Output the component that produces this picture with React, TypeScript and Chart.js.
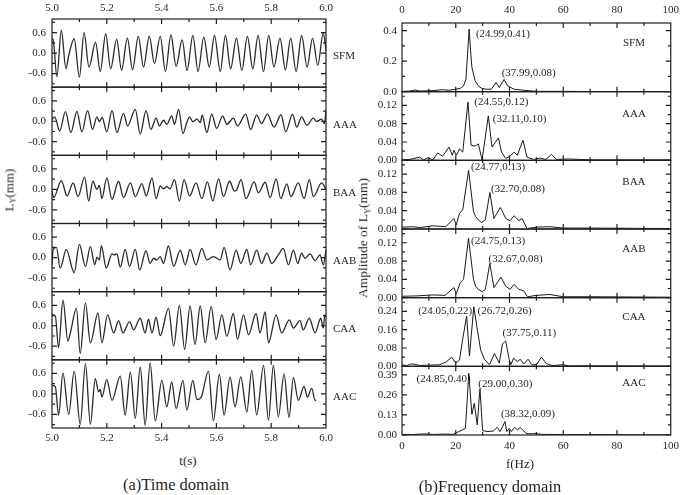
import { useEffect, useRef } from 'react';
import { Chart, registerables } from 'chart.js';

Chart.register(...registerables);

const FONT = "'Liberation Serif', 'Times New Roman', serif";
const INK = '#1f1f1f';

// ---------- series names ----------
const NAMES = ['SFM', 'AAA', 'BAA', 'AAB', 'CAA', 'AAC'];

// ---------- time domain: [t (s), L_Y (mm)] ----------
const SFM_TIME = [
  [5.000, 0.42], [5.004, 0.40], [5.018, -0.69], [5.034, 0.67], [5.051, -0.46], [5.061, -0.07],
  [5.081, 0.42], [5.100, -0.71], [5.117, 0.60], [5.135, -0.41], [5.159, 0.32], [5.176, -0.54],
  [5.196, 0.57], [5.214, -0.46], [5.236, 0.40], [5.254, -0.51], [5.275, 0.44], [5.294, -0.49],
  [5.315, 0.49], [5.334, -0.41], [5.355, 0.50], [5.374, -0.31], [5.395, 0.49], [5.414, -0.54],
  [5.434, 0.53], [5.453, -0.39], [5.475, 0.39], [5.493, -0.51], [5.514, 0.52], [5.533, -0.54],
  [5.554, 0.47], [5.574, -0.41], [5.593, 0.52], [5.614, -0.54], [5.633, 0.52], [5.652, -0.46],
  [5.673, 0.44], [5.693, -0.51], [5.713, 0.49], [5.733, -0.46], [5.752, 0.52], [5.772, -0.54],
  [5.791, 0.52], [5.810, -0.41], [5.832, 0.44], [5.852, -0.49], [5.871, 0.44], [5.891, -0.54],
  [5.911, 0.52], [5.931, -0.41], [5.951, 0.44], [5.970, -0.36], [5.990, 0.59], [6.000, 0.08],
];
const AAA_TIME = [
  [5.000, 0.06], [5.010, 0.13], [5.028, -0.29], [5.049, 0.28], [5.069, -0.33], [5.091, 0.29],
  [5.109, -0.31], [5.130, 0.31], [5.148, -0.24], [5.164, 0.13], [5.173, -0.01], [5.183, 0.11],
  [5.200, -0.31], [5.219, 0.31], [5.237, -0.33], [5.261, 0.23], [5.276, -0.14], [5.304, 0.35],
  [5.322, -0.38], [5.343, 0.31], [5.361, -0.24], [5.380, 0.09], [5.392, -0.14], [5.407, 0.03],
  [5.419, -0.09], [5.437, 0.16], [5.447, -0.09], [5.462, 0.35], [5.478, -0.36], [5.492, -0.04],
  [5.502, 0.13], [5.514, -0.01], [5.529, 0.06], [5.541, -0.04], [5.548, 0.18], [5.565, -0.33],
  [5.583, 0.21], [5.601, -0.21], [5.623, 0.16], [5.638, -0.09], [5.662, 0.09], [5.677, -0.14],
  [5.707, 0.21], [5.725, -0.24], [5.747, 0.18], [5.765, -0.07], [5.786, 0.21], [5.810, -0.17],
  [5.836, 0.19], [5.853, -0.31], [5.878, 0.21], [5.893, -0.17], [5.911, 0.13], [5.930, -0.12],
  [5.954, 0.09], [5.966, -0.01], [5.984, 0.06], [5.994, -0.07], [6.000, 0.31],
];
const BAA_TIME = [
  [5.000, -0.05], [5.006, -0.24], [5.034, 0.26], [5.055, -0.19], [5.077, 0.19], [5.095, -0.21],
  [5.119, 0.36], [5.134, -0.34], [5.149, 0.24], [5.164, 0.00], [5.173, 0.12], [5.182, -0.27],
  [5.200, 0.34], [5.219, -0.29], [5.243, 0.24], [5.261, -0.24], [5.286, 0.19], [5.304, -0.21],
  [5.328, 0.17], [5.344, -0.19], [5.365, 0.34], [5.380, -0.27], [5.395, 0.10], [5.407, 0.02],
  [5.419, 0.08], [5.431, 0.02], [5.447, 0.29], [5.465, -0.34], [5.482, 0.29], [5.502, -0.19],
  [5.526, 0.19], [5.547, -0.27], [5.567, 0.22], [5.587, -0.34], [5.608, 0.31], [5.626, -0.21],
  [5.648, 0.24], [5.666, -0.05], [5.674, -0.02], [5.690, 0.29], [5.708, -0.27], [5.738, 0.22],
  [5.753, -0.10], [5.778, 0.21], [5.796, -0.24], [5.818, 0.31], [5.835, -0.27], [5.857, 0.16],
  [5.872, -0.21], [5.899, 0.19], [5.920, -0.27], [5.939, 0.29], [5.954, -0.21], [5.984, 0.19],
  [6.000, 0.00],
];
const AAB_TIME = [
  [5.000, -0.21], [5.004, 0.22], [5.016, 0.30], [5.030, -0.31], [5.052, 0.24], [5.081, -0.44],
  [5.100, 0.39], [5.122, -0.26], [5.140, 0.32], [5.156, -0.21], [5.164, 0.01], [5.173, -0.07],
  [5.180, 0.35], [5.198, -0.31], [5.219, 0.11], [5.228, 0.08], [5.237, 0.11], [5.249, -0.28],
  [5.267, 0.24], [5.283, -0.26], [5.304, 0.24], [5.320, -0.36], [5.343, 0.20], [5.358, -0.17],
  [5.371, -0.02], [5.383, -0.07], [5.395, 0.03], [5.407, -0.17], [5.425, 0.34], [5.444, -0.26],
  [5.468, 0.22], [5.486, -0.21], [5.504, 0.24], [5.525, -0.21], [5.547, 0.27], [5.565, -0.07],
  [5.589, 0.03], [5.614, -0.07], [5.628, 0.30], [5.650, -0.36], [5.672, 0.22], [5.689, -0.17],
  [5.711, 0.24], [5.725, -0.21], [5.747, 0.22], [5.765, -0.17], [5.784, 0.13], [5.802, -0.17],
  [5.826, 0.08], [5.844, 0.27], [5.863, -0.21], [5.881, 0.22], [5.897, -0.17], [5.911, 0.13],
  [5.923, -0.02], [5.942, 0.11], [5.960, -0.09], [5.978, 0.08], [5.990, -0.21], [6.000, 0.22],
];
const CAA_TIME = [
  [5.000, 0.32], [5.012, 0.29], [5.024, -0.64], [5.040, 0.75], [5.058, -0.45], [5.067, -0.21],
  [5.089, 0.51], [5.103, -0.81], [5.122, 0.67], [5.140, -0.50], [5.168, 0.38], [5.182, -0.50],
  [5.203, 0.32], [5.225, -0.21], [5.243, 0.15], [5.259, -0.21], [5.283, 0.12], [5.298, -0.12],
  [5.322, 0.22], [5.340, -0.21], [5.352, 0.19], [5.365, -0.21], [5.380, 0.25], [5.395, -0.29],
  [5.425, 0.51], [5.444, -0.60], [5.465, 0.60], [5.484, -0.69], [5.504, 0.58], [5.522, -0.55],
  [5.541, 0.58], [5.559, -0.50], [5.581, 0.56], [5.599, -0.40], [5.620, 0.32], [5.638, -0.31],
  [5.662, 0.36], [5.677, -0.40], [5.699, 0.32], [5.717, -0.26], [5.745, 0.36], [5.759, -0.21],
  [5.778, 0.41], [5.790, -0.50], [5.818, 0.32], [5.838, -0.21], [5.866, 0.17], [5.881, -0.07],
  [5.905, 0.15], [5.917, -0.12], [5.939, 0.22], [5.960, -0.21], [5.981, 0.22], [5.990, -0.07],
  [5.996, 0.32], [6.000, 0.27],
];
const AAC_TIME = [
  [5.000, 0.25], [5.012, 0.22], [5.024, -0.62], [5.040, 0.61], [5.061, -0.60], [5.081, 0.67],
  [5.103, -0.89], [5.122, 0.89], [5.140, -0.89], [5.158, 0.45], [5.170, 0.06], [5.176, 0.13],
  [5.182, -0.09], [5.200, 0.42], [5.219, -0.19], [5.249, 0.52], [5.267, -0.62], [5.286, 0.64],
  [5.304, -0.72], [5.322, 0.79], [5.340, -0.92], [5.358, 0.91], [5.377, -0.79], [5.401, 0.40],
  [5.419, -0.38], [5.437, 0.35], [5.453, -0.43], [5.478, 0.40], [5.492, -0.48], [5.514, 0.40],
  [5.529, -0.17], [5.544, -0.11], [5.571, 0.67], [5.589, -0.79], [5.611, 0.58], [5.628, -0.62],
  [5.650, 0.50], [5.668, -0.38], [5.689, 0.50], [5.711, -0.53], [5.729, 0.69], [5.747, -0.62],
  [5.772, 0.84], [5.790, -0.77], [5.808, 0.84], [5.826, -0.67], [5.847, 0.58], [5.865, -0.69],
  [5.881, 0.48], [5.899, -0.19], [5.920, 0.22], [5.932, -0.09], [5.948, 0.16], [5.960, -0.19],
  [5.964, -0.17],
];
const TIME_SERIES = [SFM_TIME, AAA_TIME, BAA_TIME, AAB_TIME, CAA_TIME, AAC_TIME];

const TIME_MIN = 5.0;
const TIME_MAX = 6.0;
const TIME_STEP = 0.2;
const L_MIN = -1;
const L_MAX = 1;
const L_TICKS = [-0.6, 0, 0.6];
const L_MINOR = [-0.9, -0.3, 0.3, 0.9];

// ---------- frequency domain: [f (Hz), amplitude (mm)] ----------
const SFM_FREQ = [
  [0, 0.002], [3.0, 0.004], [4.8, 0.011], [6.6, 0.004], [11.5, 0.007], [15.1, 0.013], [17.5, 0.009],
  [19.9, 0.016], [21.7, 0.022], [22.9, 0.038], [23.8, 0.082], [24.4, 0.25], [24.99, 0.41], [25.5, 0.27],
  [26.0, 0.16], [27.2, 0.071], [28.4, 0.038], [29.6, 0.022], [31.4, 0.016], [33.2, 0.016], [35.0, 0.06],
  [36.2, 0.027], [37.99, 0.08], [39.3, 0.038], [41.7, 0.016], [43.5, 0.013], [45.3, 0.009], [50.1, 0.002],
  [60, 0.002], [70, 0.001], [100, 0.001],
];
const AAA_FREQ = [
  [0, 0.001], [3, 0.002], [6.6, 0.007], [8, 0.001], [9.7, 0.006], [11.5, 0.001], [13.3, 0.016],
  [15.1, 0.009], [17.5, 0.029], [18.7, 0.011], [19.3, 0.022], [20.2, 0.011], [21.4, 0.025], [22.6, 0.018],
  [24.55, 0.127], [25.7, 0.033], [27.2, 0.031], [28.4, 0.036], [29.8, 0.001], [32.11, 0.097], [33.5, 0.029],
  [35.9, 0.049], [37.0, 0.018], [38.6, 0.004], [40.2, 0.009], [41.7, 0.018], [42.9, 0.011], [45.0, 0.044],
  [46.5, 0.007], [49, 0.002], [51.3, 0.005], [53.5, 0.002], [55.6, 0.013], [57.5, 0.002], [62, 0.003],
  [70, 0.001], [80, 0.001], [100, 0.001],
];
const BAA_FREQ = [
  [0, 0.004], [4, 0.005], [6.6, 0.003], [11.5, 0.007], [16.3, 0.005], [19.3, 0.023], [20.2, 0.009],
  [21.4, 0.034], [22.6, 0.042], [24.77, 0.128], [26.6, 0.038], [27.4, 0.027], [28.4, 0.02], [29.6, 0.014],
  [31.0, 0.02], [32.7, 0.08], [34.2, 0.023], [36.6, 0.047], [38.6, 0.023], [40.2, 0.018], [41.7, 0.029],
  [43.5, 0.018], [44.7, 0.023], [46.5, 0.001], [50, 0.004], [55, 0.005], [60, 0.002], [70, 0.002],
  [100, 0.001],
];
const AAB_FREQ = [
  [0, 0.003], [6, 0.004], [11.5, 0.006], [16, 0.005], [19.3, 0.022], [20.2, 0.009], [21.7, 0.033],
  [22.9, 0.04], [24.75, 0.13], [26.6, 0.04], [27.4, 0.025], [28.4, 0.018], [29.8, 0.013], [31, 0.018],
  [32.67, 0.075], [34.2, 0.022], [36.8, 0.045], [38.6, 0.025], [40.2, 0.018], [41.7, 0.029], [43.5, 0.018],
  [45.3, 0.015], [46.7, 0.002], [50, 0.005], [55, 0.007], [60, 0.002], [70, 0.002], [100, 0.001],
];
const CAA_FREQ = [
  [0, 0.007], [1.8, 0.003], [3.6, 0.011], [6.6, 0.004], [10, 0.005], [14, 0.007], [16.3, 0.018],
  [18.5, 0.04], [20, 0.014], [21.4, 0.028], [22.6, 0.12], [24.05, 0.22], [25.1, 0.045], [26.72, 0.26],
  [28.1, 0.155], [29.3, 0.07], [30.8, 0.028], [32.6, 0.007], [34.4, 0.056], [36.2, 0.014], [37.4, 0.099],
  [38.6, 0.11], [39.9, 0.03], [40.5, 0.008], [41.5, 0.035], [42.9, 0.021], [44, 0.031], [45.3, 0.01],
  [46.9, 0.031], [48.3, 0.007], [50, 0.007], [51.9, 0.04], [53.7, 0.012], [56, 0.003], [59.8, 0.007],
  [62, 0.002], [70, 0.002], [100, 0.001],
];
const AAC_FREQ = [
  [0, 0.004], [4, 0.003], [7.9, 0.007], [12, 0.004], [16, 0.006], [19, 0.004], [21.1, 0.022],
  [23.6, 0.043], [24.85, 0.40], [26.0, 0.134], [26.9, 0.206], [28.0, 0.065], [29.0, 0.30], [30.0, 0.028],
  [32, 0.022], [34, 0.026], [35.4, 0.05], [36.5, 0.022], [38.32, 0.087], [39.0, 0.022], [39.9, 0.043],
  [40.7, 0.022], [41.9, 0.05], [42.9, 0.033], [44, 0.048], [45, 0.03], [46.5, 0.007], [50, 0.009],
  [52, 0.004], [55, 0.004], [60, 0.002], [70, 0.002], [100, 0.001],
];
const FREQ_SERIES = [SFM_FREQ, AAA_FREQ, BAA_FREQ, AAB_FREQ, CAA_FREQ, AAC_FREQ];

const FREQ_MIN = 0;
const FREQ_MAX = 100;
const FREQ_STEP = 20;
const AMP_MAX = [0.45, 0.15, 0.15, 0.15, 0.3, 0.445];
const AMP_TICKS = [
  [0, 0.2, 0.4],
  [0, 0.04, 0.08, 0.12],
  [0, 0.04, 0.08, 0.12],
  [0, 0.04, 0.08, 0.12],
  [0, 0.08, 0.16, 0.24],
  [0, 0.13, 0.26, 0.39],
];
const AMP_MINOR = [
  [0.1, 0.3],
  [0.02, 0.06, 0.1, 0.14],
  [0.02, 0.06, 0.1, 0.14],
  [0.02, 0.06, 0.1, 0.14],
  [0.04, 0.12, 0.2, 0.28],
  [0.065, 0.195, 0.325],
];
const AMP_DIGITS = [1, 2, 2, 2, 2, 2];

// peak annotations: text, anchored at (f, amplitude) of its left/middle
const PEAK_NOTES = [
  [{ text: '(24.99,0.41)', f: 27.5, a: 0.375 }, { text: '(37.99,0.08)', f: 37.1, a: 0.124 }],
  [{ text: '(24.55,0.12)', f: 26.9, a: 0.127 }, { text: '(32.11,0.10)', f: 33.8, a: 0.091 }],
  [{ text: '(24.77,0.13)', f: 25.7, a: 0.135 }, { text: '(32.70,0.08)', f: 33.1, a: 0.087 }],
  [{ text: '(24.75,0.13)', f: 25.7, a: 0.124 }, { text: '(32.67,0.08)', f: 32.2, a: 0.084 }],
  [
    { text: '(24.05,0.22)', f: 6.0, a: 0.24 },
    { text: '(26.72,0.26)', f: 28.1, a: 0.24 },
    { text: '(37.75,0.11)', f: 37.4, a: 0.144 },
  ],
  [
    { text: '(24.85,0.40)', f: 5.4, a: 0.362 },
    { text: '(29.00,0.30)', f: 28.4, a: 0.332 },
    { text: '(38.32,0.09)', f: 36.8, a: 0.135 },
  ],
];
const NAME_ANCHOR_F = 86.3;
const NAME_ANCHOR_A = [0.319, 0.102, 0.103, 0.107, 0.215, 0.336];

// ---------- helpers ----------
function framePlugin(
  yIds: string[],
  major: number[][],
  minor: number[][],
  xMin: number,
  xMax: number,
  xMinorStep: number,
  drawText: (chart: any) => void,
) {
  return {
    id: 'frame',
    afterDatasetsDraw(chart: any) {
      const { ctx, chartArea: ca } = chart;
      const xs = chart.scales.x;
      ctx.save();
      ctx.strokeStyle = INK;
      ctx.lineWidth = 1.2;
      yIds.forEach((id, i) => {
        const ys = chart.scales[id];
        const top = ys.top;
        const bot = ys.bottom;
        ctx.strokeRect(ca.left, top, ca.right - ca.left, bot - top);
        ctx.beginPath();
        const n = Math.round((xMax - xMin) / xMinorStep);
        for (let k = 1; k < n; k++) {
          const px = xs.getPixelForValue(xMin + k * xMinorStep);
          const len = k % 2 === 0 ? 5 : 3;
          ctx.moveTo(px, top);
          ctx.lineTo(px, top + len);
          ctx.moveTo(px, bot);
          ctx.lineTo(px, bot - len);
        }
        major[i].forEach((v) => {
          const py = ys.getPixelForValue(v);
          ctx.moveTo(ca.left, py);
          ctx.lineTo(ca.left + 5, py);
          ctx.moveTo(ca.right, py);
          ctx.lineTo(ca.right - 5, py);
        });
        minor[i].forEach((v) => {
          const py = ys.getPixelForValue(v);
          ctx.moveTo(ca.left, py);
          ctx.lineTo(ca.left + 3, py);
          ctx.moveTo(ca.right, py);
          ctx.lineTo(ca.right - 3, py);
        });
        ctx.stroke();
      });
      ctx.fillStyle = INK;
      drawText(chart);
      ctx.restore();
    },
  };
}

const tickFont = { family: FONT, size: 11 };

function buildTimeChart(canvas: HTMLCanvasElement) {
  const yIds = NAMES.map((_, i) => 'yt' + i);
  const scales: any = {
    x: {
      type: 'linear',
      position: 'bottom',
      min: TIME_MIN,
      max: TIME_MAX,
      ticks: { stepSize: TIME_STEP, font: tickFont, color: INK, padding: 4, maxRotation: 0, callback: (v: any) => Number(v).toFixed(1) },
      grid: { display: false, drawTicks: false },
      border: { display: false },
      afterFit: (s: any) => { s.height = 20; },
    },
    x2: {
      type: 'linear',
      position: 'top',
      axis: 'x',
      min: TIME_MIN,
      max: TIME_MAX,
      ticks: { stepSize: TIME_STEP, font: tickFont, color: INK, padding: 4, maxRotation: 0, callback: (v: any) => Number(v).toFixed(1) },
      grid: { display: false, drawTicks: false },
      border: { display: false },
      afterFit: (s: any) => { s.height = 19; },
    },
  };
  // bottom-most first so that the first series ends up on top of the stack
  for (let i = NAMES.length - 1; i >= 0; i--) {
    scales[yIds[i]] = {
      type: 'linear',
      position: 'left',
      stack: 'time',
      stackWeight: 1,
      min: L_MIN,
      max: L_MAX,
      afterBuildTicks: (s: any) => { s.ticks = L_TICKS.map((v) => ({ value: v })); },
      ticks: { font: tickFont, color: INK, padding: 6, autoSkip: false, callback: (v: any) => Number(v).toFixed(1) },
      grid: { display: false, drawTicks: false },
      border: { display: false },
      afterFit: (s: any) => { s.width = 52; },
    };
  }
  const datasets = TIME_SERIES.map((ser, i) => ({
    label: NAMES[i],
    data: ser.map(([t, v]) => ({ x: t, y: v })),
    yAxisID: yIds[i],
    xAxisID: 'x',
    borderColor: '#2a2a2a',
    borderWidth: 1.3,
    pointRadius: 0,
    fill: false,
    cubicInterpolationMode: 'monotone',
  }));
  const plugin = framePlugin(
    yIds,
    NAMES.map(() => L_TICKS),
    NAMES.map(() => L_MINOR),
    TIME_MIN,
    TIME_MAX,
    TIME_STEP / 2,
    (chart: any) => {
      const { ctx, chartArea: ca } = chart;
      ctx.font = `11px ${FONT}`;
      ctx.textAlign = 'left';
      ctx.textBaseline = 'middle';
      yIds.forEach((id, i) => {
        const ys = chart.scales[id];
        ctx.fillText(NAMES[i], ca.right + 7, ys.getPixelForValue(-0.1));
      });
    },
  );
  return new Chart(canvas, {
    type: 'line',
    data: { datasets },
    options: {
      responsive: false,
      animation: false,
      events: [],
      layout: { padding: { left: 0, right: 34, top: 0, bottom: 0 } },
      plugins: { legend: { display: false }, tooltip: { enabled: false } },
      scales,
    } as any,
    plugins: [plugin],
  } as any);
}

function buildFreqChart(canvas: HTMLCanvasElement) {
  const yIds = NAMES.map((_, i) => 'yf' + i);
  const scales: any = {
    x: {
      type: 'linear',
      position: 'bottom',
      min: FREQ_MIN,
      max: FREQ_MAX,
      ticks: { stepSize: FREQ_STEP, font: tickFont, color: INK, padding: 5, maxRotation: 0 },
      grid: { display: false, drawTicks: false },
      border: { display: false },
      afterFit: (s: any) => { s.height = 20; },
    },
    x2: {
      type: 'linear',
      position: 'top',
      axis: 'x',
      min: FREQ_MIN,
      max: FREQ_MAX,
      ticks: { stepSize: FREQ_STEP, font: tickFont, color: INK, padding: 6, maxRotation: 0 },
      grid: { display: false, drawTicks: false },
      border: { display: false },
      afterFit: (s: any) => { s.height = 23; },
    },
  };
  for (let i = NAMES.length - 1; i >= 0; i--) {
    const digits = AMP_DIGITS[i];
    const ticks = AMP_TICKS[i];
    scales[yIds[i]] = {
      type: 'linear',
      position: 'left',
      stack: 'freq',
      stackWeight: 1,
      min: 0,
      max: AMP_MAX[i],
      afterBuildTicks: (s: any) => { s.ticks = ticks.map((v) => ({ value: v })); },
      ticks: { font: tickFont, color: INK, padding: 5, autoSkip: false, callback: (v: any) => Number(v).toFixed(digits) },
      grid: { display: false, drawTicks: false },
      border: { display: false },
      afterFit: (s: any) => { s.width = 46; },
    };
  }
  const datasets = FREQ_SERIES.map((ser, i) => ({
    label: NAMES[i],
    data: ser.map(([f, a]) => ({ x: f, y: a })),
    yAxisID: yIds[i],
    xAxisID: 'x',
    borderColor: '#1a1a1a',
    borderWidth: 1,
    pointRadius: 0,
    fill: false,
    tension: 0,
  }));
  const plugin = framePlugin(
    yIds,
    AMP_TICKS,
    AMP_MINOR,
    FREQ_MIN,
    FREQ_MAX,
    FREQ_STEP / 2,
    (chart: any) => {
      const { ctx } = chart;
      const xs = chart.scales.x;
      ctx.font = `11px ${FONT}`;
      ctx.textBaseline = 'middle';
      yIds.forEach((id, i) => {
        const ys = chart.scales[id];
        ctx.textAlign = 'center';
        ctx.fillText(NAMES[i], xs.getPixelForValue(NAME_ANCHOR_F), ys.getPixelForValue(NAME_ANCHOR_A[i]));
        ctx.textAlign = 'left';
        PEAK_NOTES[i].forEach((n) => {
          ctx.fillText(n.text, xs.getPixelForValue(n.f), ys.getPixelForValue(n.a));
        });
      });
    },
  );
  return new Chart(canvas, {
    type: 'line',
    data: { datasets },
    options: {
      responsive: false,
      animation: false,
      events: [],
      layout: { padding: { left: 0, right: 7, top: 0, bottom: 0 } },
      plugins: { legend: { display: false }, tooltip: { enabled: false } },
      scales,
    } as any,
    plugins: [plugin],
  } as any);
}

const textBase: any = {
  position: 'absolute',
  fontFamily: FONT,
  color: INK,
  whiteSpace: 'nowrap',
  lineHeight: 1,
};

function Centered({ x, y, size, rotate, children }: any) {
  return (
    <div
      style={{
        ...textBase,
        left: x,
        top: y,
        fontSize: size,
        transform: `translate(-50%, -50%)${rotate ? ' rotate(-90deg)' : ''}`,
      }}
    >
      {children}
    </div>
  );
}

const subStyle: any = { fontSize: '0.62em', verticalAlign: '-0.3em', lineHeight: 0 };

export default function App() {
  const leftRef = useRef<HTMLCanvasElement>(null);
  const rightRef = useRef<HTMLCanvasElement>(null);

  useEffect(() => {
    const a = buildTimeChart(leftRef.current!);
    const b = buildFreqChart(rightRef.current!);
    return () => {
      a.destroy();
      b.destroy();
    };
  }, []);

  return (
    <div style={{ position: 'absolute', left: 0, top: 0, width: 685, height: 495, background: '#fff', overflow: 'hidden' }}>
      <canvas ref={leftRef} width={360} height={448} style={{ position: 'absolute', left: 0, top: 0 }} />
      <canvas ref={rightRef} width={329} height={455} style={{ position: 'absolute', left: 356, top: 0 }} />
      <Centered x={9} y={190} size={13} rotate>
        L<sub style={subStyle}>Y</sub>(mm)
      </Centered>
      <Centered x={363} y={237.5} size={13.5} rotate>
        Amplitude of L<sub style={subStyle}>Y</sub>(mm)
      </Centered>
      <Centered x={188} y={460} size={13}>t(s)</Centered>
      <Centered x={520} y={463} size={13}>f(Hz)</Centered>
      <Centered x={176} y={485} size={16.5}>(a)Time domain</Centered>
      <Centered x={490} y={486.5} size={16.5}>(b)Frequency domain</Centered>
    </div>
  );
}
